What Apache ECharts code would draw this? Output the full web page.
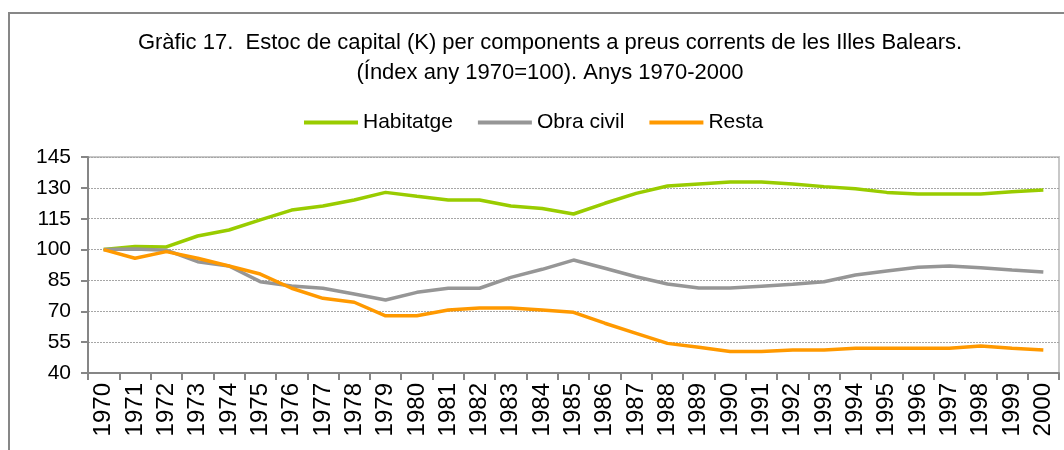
<!DOCTYPE html>
<html>
<head>
<meta charset="utf-8">
<title>Estoc de capital</title>
<script src="https://cdn.jsdelivr.net/npm/echarts@6/dist/echarts.min.js"></script>
<style>
  html, body { margin: 0; padding: 0; background: #fff; }
  #chart { width: 1064px; height: 450px; }
</style>
</head>
<body>
<div id="chart"></div>
<script>
// anys (eix X)
var years = ['1970', '1971', '1972', '1973', '1974', '1975', '1976', '1977', '1978', '1979',
  '1980', '1981', '1982', '1983', '1984', '1985', '1986', '1987', '1988', '1989',
  '1990', '1991', '1992', '1993', '1994', '1995', '1996', '1997', '1998', '1999', '2000']

// index 1970=100, llegit del grafic
var habitatge = [100, 101.5, 101.3, 106.6, 109.5, 114.4, 119.2, 121.2, 124.1, 127.8,
  125.9, 124.1, 124.1, 121.2, 120.0, 117.3, 122.5, 127.3, 130.9, 131.9,
  132.8, 132.8, 131.9, 130.6, 129.6, 127.8, 127.0, 127.0, 127.0, 128.1, 129.0]
var obraCivil = [100, 100.3, 99.7, 94.1, 92.0, 84.4, 82.3, 81.2, 78.4, 75.5,
  79.2, 81.2, 81.2, 86.5, 90.4, 94.9, 90.9, 86.8, 83.3, 81.3,
  81.3, 82.2, 83.1, 84.4, 87.6, 89.6, 91.4, 92.0, 91.2, 90.1, 89.1]
var resta = [100, 95.8, 99.0, 95.8, 92.0, 88.1, 81.2, 76.3, 74.4, 67.8,
  67.8, 70.6, 71.6, 71.6, 70.6, 69.5, 64.2, 59.3, 54.4, 52.5,
  50.4, 50.4, 51.2, 51.2, 52.0, 52.0, 52.0, 52.0, 53.1, 52.0, 51.2]

var seriesNames = ['Habitatge', 'Obra civil', 'Resta']
var seriesColors = ['#99cc00', '#969696', '#ff9900']

var font = 'Liberation Sans, Arial, sans-serif'

var chart = echarts.init(document.getElementById('chart'), null, { renderer: 'canvas' })

function line(name, data, color) {
  return {
    name: name,
    type: 'line',
    data: data,
    symbol: 'none',
    smooth: false,
    lineStyle: { color: color, width: 3.5 },
    itemStyle: { color: color },
    animation: false
  }
}

chart.setOption({
  backgroundColor: '#fff',
  textStyle: { fontFamily: font, color: '#000' },
  graphic: [{
    type: 'rect',
    silent: true,
    shape: { x: 9, y: 13, width: 1100, height: 500 },
    style: { fill: 'none', stroke: '#878787', lineWidth: 2 }
  }],
  title: {
    text: 'Gràfic 17.  Estoc de capital (K) per components a preus corrents de les Illes Balears.\n(Índex any 1970=100). Anys 1970-2000',
    left: 545,
    top: 23,
    textAlign: 'center',
    textStyle: {
      fontFamily: font,
      fontWeight: 'normal',
      fontSize: 22,
      lineHeight: 30,
      color: '#000'
    }
  },
  legend: {
    data: seriesNames,
    left: 299,
    top: 107,
    icon: 'rect',
    itemWidth: 54,
    itemHeight: 4,
    itemGap: 25,
    textStyle: { fontFamily: font, fontSize: 21, color: '#000' }
  },
  grid: {
    left: 88,
    right: 5,
    top: 157,
    bottom: 77,
    show: true,
    borderColor: '#c8c8c8',
    borderWidth: 2
  },
  xAxis: {
    type: 'category',
    data: years,
    boundaryGap: true,
    axisLine: { lineStyle: { color: '#868686', width: 2 } },
    axisTick: { show: true, length: 7, lineStyle: { color: '#868686', width: 2 } },
    axisLabel: {
      rotate: 90,
      interval: 0,
      margin: 10,
      fontFamily: font,
      fontSize: 24,
      color: '#000'
    },
    splitLine: { show: false }
  },
  yAxis: {
    type: 'value',
    min: 40,
    max: 145,
    interval: 15,
    axisLine: { show: true, lineStyle: { color: '#868686', width: 2 } },
    axisTick: { show: true, length: 7, lineStyle: { color: '#868686', width: 2 } },
    axisLabel: { margin: 17, fontFamily: font, fontSize: 21, color: '#000' },
    splitLine: { show: true, lineStyle: { color: '#a6a6a6', width: 1, type: [2, 1] } }
  },
  series: [
    line(seriesNames[0], habitatge, seriesColors[0]),
    line(seriesNames[1], obraCivil, seriesColors[1]),
    line(seriesNames[2], resta, seriesColors[2])
  ]
})
</script>
</body>
</html>
